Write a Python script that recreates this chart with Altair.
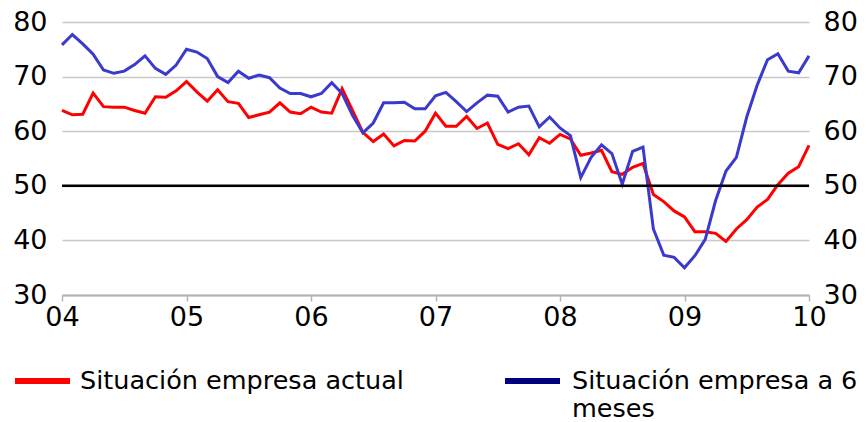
import altair as alt
import pandas as pd

red_values = [
    63.8, 63.0, 63.1, 67.0, 64.5, 64.4, 64.4, 63.8, 63.3, 66.3, 66.2, 67.4,
    69.1, 67.2, 65.5, 67.6, 65.4, 65.1, 62.5, 63.0, 63.5, 65.2, 63.5, 63.2,
    64.4, 63.5, 63.3, 67.8, 63.8, 59.8, 58.1, 59.5, 57.3, 58.3, 58.2, 60.0,
    63.3, 60.9, 60.9, 62.7, 60.5, 61.5, 57.6, 56.8, 57.7, 55.7, 58.8, 57.8,
    59.4, 58.6, 55.6, 56.0, 56.5, 52.6, 52.1, 53.4, 54.1, 48.4, 47.1, 45.4,
    44.3, 41.6, 41.6, 41.3, 39.8, 42.1, 43.8, 46.1, 47.5, 50.2, 52.3, 53.5,
    57.4,
]
blue_values = [
    75.8, 77.7, 76.0, 74.1, 71.2, 70.6, 71.0, 72.2, 73.8, 71.5, 70.4, 72.1,
    75.0, 74.5, 73.3, 70.0, 68.9, 71.0, 69.7, 70.3, 69.8, 67.9, 66.9, 66.9,
    66.3, 66.9, 68.9, 66.9, 62.9, 59.7, 61.5, 65.2, 65.2, 65.3, 64.1, 64.1,
    66.5, 67.1, 65.4, 63.6, 65.2, 66.6, 66.4, 63.5, 64.4, 64.6, 60.8, 62.6,
    60.6, 59.2, 51.5, 55.2, 57.5, 55.9, 50.3, 56.3, 57.1, 42.1, 37.3, 36.9,
    35.0, 37.2, 40.2, 47.3, 52.7, 55.2, 62.6, 68.4, 73.1, 74.2, 71.0, 70.7,
    73.8,
]
series_names = ["Situación empresa actual", "Situación empresa a 6 meses"]
year_ticks = [2004, 2005, 2006, 2007, 2008, 2009, 2010]
y_ticks = [30, 40, 50, 60, 70, 80]

t = [2004 + i / 12 for i in range(len(red_values))]
df = pd.concat([
    pd.DataFrame({"t": t, "v": red_values, "s": series_names[0]}),
    pd.DataFrame({"t": t, "v": blue_values, "s": series_names[1]}),
])

FONT = "DejaVu Sans, sans-serif"
FS = 27
LFS = 25.5

x_scale = alt.Scale(domain=[2004, 2010], nice=False, zero=False)
x_enc = alt.X("t:Q", scale=x_scale,
              axis=alt.Axis(values=year_ticks, labelExpr="slice(toString(datum.value), 2)",
                            title=None, grid=False, domainColor="#b4b4b4", domainWidth=2,
                            tickColor="#b4b4b4", tickWidth=1.5, tickSize=6,
                            labelFont=FONT, labelFontSize=FS, labelColor="black",
                            labelPadding=3, labelFlush=False))
y_scale = alt.Scale(domain=[30, 80], nice=False, zero=False)

lines = alt.Chart(df).mark_line(strokeWidth=3).encode(
    x=x_enc,
    y=alt.Y("v:Q", scale=y_scale,
            axis=alt.Axis(orient="left", values=y_ticks, title=None, domain=False, ticks=False,
                          gridColor="#c8c8c8", gridWidth=1.3,
                          labelFont=FONT, labelFontSize=FS, labelColor="black",
                          labelPadding=15)),
    color=alt.Color("s:N", scale=alt.Scale(domain=series_names, range=["#ff0000", "#3a3acc"]),
                    legend=None),
)

right_axis = alt.Chart(df).mark_line(opacity=0).encode(
    x=x_enc,
    y=alt.Y("v:Q", scale=y_scale,
            axis=alt.Axis(orient="right", values=y_ticks, title=None, domain=False, ticks=False,
                          grid=False, labelFont=FONT, labelFontSize=FS, labelColor="black",
                          labelPadding=14)),
    detail="s:N",
)

ref50 = alt.Chart(pd.DataFrame({"y": [50]})).mark_rule(color="black", strokeWidth=2.5).encode(
    y=alt.Y("y:Q", scale=y_scale, axis=None))

one = pd.DataFrame({"a": [0]})
leg = [
    alt.Chart(one).mark_rule(color="#ff0000", strokeWidth=6).encode(
        x=alt.value(-47), x2=alt.value(8), y=alt.value(359)),
    alt.Chart(one).mark_text(align="left", baseline="middle", font=FONT, fontSize=LFS, color="black").encode(
        x=alt.value(18), y=alt.value(359), text=alt.value(series_names[0])),
    alt.Chart(one).mark_rule(color="#000080", strokeWidth=6).encode(
        x=alt.value(443), x2=alt.value(498), y=alt.value(359)),
    alt.Chart(one).mark_text(align="left", baseline="middle", font=FONT, fontSize=LFS, color="black").encode(
        x=alt.value(510), y=alt.value(359), text=alt.value("Situación empresa a 6")),
    alt.Chart(one).mark_text(align="left", baseline="alphabetic", font=FONT, fontSize=LFS, color="black").encode(
        x=alt.value(510), y=alt.value(395), text=alt.value("meses")),
]

chart = alt.layer(lines, right_axis, ref50, *leg).resolve_axis(y="independent").properties(
    width=747, height=273,
    autosize=alt.AutoSizeParams(type="none"),
    padding={"left": 54, "top": 14, "right": 50, "bottom": 124},
).configure_view(stroke=None)

chart.save("out.html", embed_options={"renderer": "svg", "actions": False})
